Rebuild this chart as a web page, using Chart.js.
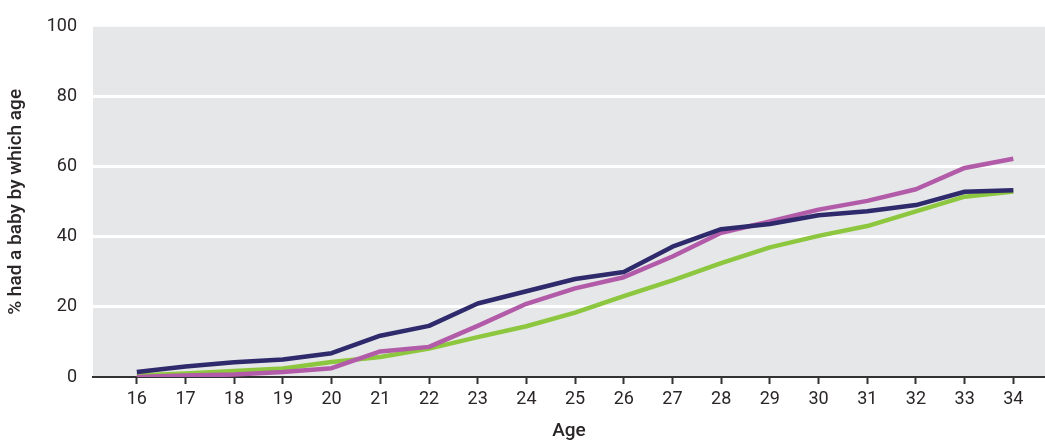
<!DOCTYPE html>
<html>
<head>
<meta charset="utf-8">
<script src="https://cdn.jsdelivr.net/npm/chart.js@4"></script>
<style>
  html, body { margin: 0; padding: 0; background: #fff; }
  #wrap { width: 1045px; height: 443px; }
</style>
</head>
<body>
<div id="wrap"><canvas id="ageChart"></canvas></div>
<script>
// ages on the x axis
const ages = [16, 17, 18, 19, 20, 21, 22, 23, 24, 25, 26, 27, 28, 29, 30, 31, 32, 33, 34];

// % had a baby by which age, one array per line
const navySeries = [1.4, 3.0, 4.2, 5.0, 6.8, 11.8, 14.6, 21.0, 24.5, 28.0, 30.0, 37.2, 42.2, 43.7, 46.2, 47.3, 49.1, 52.9, 53.3];
const pinkSeries = [0.0, 0.4, 0.7, 1.4, 2.5, 7.3, 8.6, 14.6, 20.9, 25.3, 28.5, 34.4, 41.2, 44.4, 47.8, 50.3, 53.6, 59.7, 62.3];
const greenSeries = [0.4, 1.0, 1.7, 2.4, 4.3, 5.7, 8.1, 11.4, 14.5, 18.4, 23.1, 27.6, 32.5, 37.0, 40.3, 43.1, 47.3, 51.5, 53.0];

const yTicks = [0, 20, 40, 60, 80, 100];

function points(series) {
    return ages.map((a, i) => ({ x: a, y: series[i] }));
}

const textColor = '#2a2627';
const fontFamily = "'Roboto', 'DejaVu Sans', sans-serif";

// grey plot background
const plotBg = {
    id: 'plotBg',
    beforeDraw(chart) {
        const { ctx, chartArea } = chart;
        ctx.save();
        ctx.fillStyle = '#e6e7e8';
        ctx.fillRect(chartArea.left, chartArea.top, chartArea.right - chartArea.left, chartArea.bottom - chartArea.top);
        ctx.restore();
    }
};

const ctx = document.getElementById('ageChart').getContext('2d');

const ageChart = new Chart(ctx, {
    type: 'line',
    data: {
        datasets: [
            { label: 'navy', data: points(navySeries), borderColor: '#2e2a6c', borderWidth: 4.5 },
            { label: 'pink', data: points(pinkSeries), borderColor: '#b25ba9', borderWidth: 4.5 },
            { label: 'green', data: points(greenSeries), borderColor: '#8dc73f', borderWidth: 4.5 }
        ]
    },
    options: {
        responsive: true,
        maintainAspectRatio: false,
        animation: false,
        layout: { padding: { top: 22, right: 0, bottom: 0, left: 0 } },
        elements: {
            point: { radius: 0 },
            line: { tension: 0, borderJoinStyle: 'round' }
        },
        plugins: {
            legend: { display: false },
            tooltip: { enabled: false }
        },
        scales: {
            x: {
                type: 'linear',
                min: 15.1,
                max: 34.65,
                afterBuildTicks: (scale) => {
                    scale.ticks = ages.map(a => ({ value: a }));
                },
                afterFit: (scale) => { scale.height = 66; },
                grid: {
                    drawOnChartArea: false,
                    drawTicks: true,
                    tickLength: 7,
                    tickColor: '#333',
                    tickWidth: 2
                },
                border: { color: '#333', width: 2 },
                ticks: {
                    color: textColor,
                    padding: 5,
                    font: { family: fontFamily, size: 18 },
                    maxRotation: 0,
                    autoSkip: false
                },
                title: {
                    display: true,
                    text: 'Age',
                    color: textColor,
                    font: { family: fontFamily, size: 19, weight: 500 },
                    padding: { top: 0, bottom: 0 }
                }
            },
            y: {
                min: 0,
                max: 100,
                afterBuildTicks: (scale) => {
                    scale.ticks = yTicks.map(v => ({ value: v }));
                },
                afterFit: (scale) => { scale.width = 93; },
                grid: {
                    drawTicks: false,
                    lineWidth: 3,
                    color: (c) => (c.tick && c.tick.value > 0 && c.tick.value < 100) ? '#ffffff' : 'rgba(0,0,0,0)'
                },
                border: { display: false },
                ticks: {
                    color: textColor,
                    padding: 16,
                    font: { family: fontFamily, size: 18 }
                },
                title: {
                    display: true,
                    text: '% had a baby by which age',
                    color: textColor,
                    font: { family: fontFamily, size: 19, weight: 500 },
                    padding: { top: 5, bottom: 0 }
                }
            }
        }
    },
    plugins: [plotBg]
});
</script>
</body>
</html>
